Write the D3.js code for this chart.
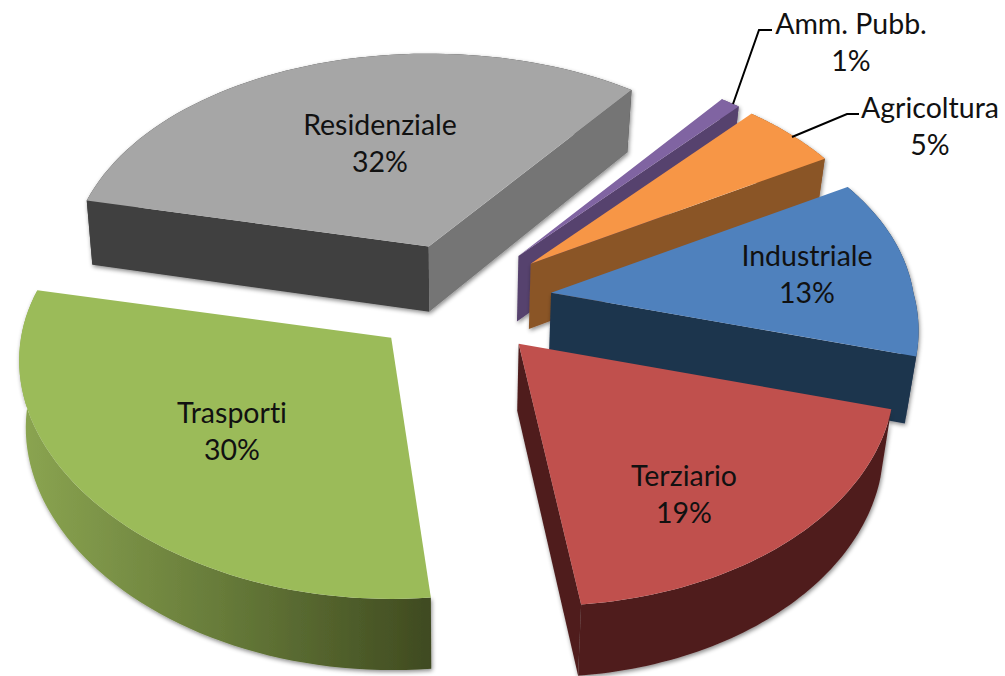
<!DOCTYPE html>
<html>
<head>
<meta charset="utf-8">
<script src="https://cdn.jsdelivr.net/npm/d3@7"></script>
<style>
  html, body { margin:0; padding:0; background:#fff; }
  svg { display:block; }
  .lbl { font-family:Lato, "Open Sans", sans-serif; font-size:28.5px; fill:#111; text-anchor:middle; font-variant-ligatures:none; }
  .leader { fill:none; stroke:#000; stroke-width:2; }
</style>
</head>
<body>
<svg id="svg-pie" width="1005" height="676"></svg>
<script>
// Data, in the order the slices go round (clockwise)
var categories = ["Residenziale", "Amm. Pubb.", "Agricoltura", "Industriale", "Terziario", "Trasporti"];
var values = [32, 1, 5, 13, 19, 30];
var top_colors = ["#a6a6a6", "#8064a2", "#f79646", "#4f81bd", "#c0504d", "#9bbb59"];
var wall_colors = ["#404040", "#57426e", "#8a5427", "#1f344d", "#4f1f1f", "url(#wall-trasporti)"];
var end_wall_colors = ["#757575", "#57426e", "#8a5427", "#1f344d", "#4f1f1f", "url(#wall-trasporti)"];

// Layout
var center = { x:460, y:300 };
var radius = 363, tilt = 0.611, explode = 0.253, explode_tilt = 0.62;
var persp_x = 0.1, persp_y = 0.134; // how much the rim grows towards the viewer
var rotation = 282.5 * Math.PI / 180;

// Labels are placed by hand, like in the original
var label_pos = [[380, 125], [851, 24], [930, 108], [807, 256], [684, 476], [232, 413]];
var line_gap = 37;
var leaders = [[[733, 104], [759, 30], [772, 30]], [[792, 137], [847, 114], [859, 114]]];

var svg = d3.select("#svg-pie");
var rScale = d3.scaleLinear().domain([0, 1]).range([0, radius]);
var yScale = d3.scaleLinear().domain([0, 1]).range([0, radius * tilt]);
var line = d3.line();

var defs = svg.append("defs");
var grad = defs.append("linearGradient")
               .attr("id", "wall-trasporti")
               .attr("gradientUnits", "userSpaceOnUse")
               .attr("x1", 20).attr("x2", 432).attr("y1", 0).attr("y2", 0);
grad.append("stop").attr("offset", 0).attr("stop-color", "#8ba551");
grad.append("stop").attr("offset", 0.5).attr("stop-color", "#667a39");
grad.append("stop").attr("offset", 1).attr("stop-color", "#3f4a20");

var shadow = defs.append("filter").attr("id", "shadow")
                 .attr("x", "-10%").attr("y", "-10%").attr("width", "120%").attr("height", "120%");
shadow.append("feDropShadow")
      .attr("dx", 1).attr("dy", 2).attr("stdDeviation", 2)
      .attr("flood-color", "#000").attr("flood-opacity", 0.45);

// d3.pie measures from 12 o'clock; phi here is from 3 o'clock, same direction
var pie = d3.pie().sort(null).startAngle(rotation).endAngle(rotation + 2 * Math.PI);
var slices = pie(values);

// Rim point relative to the slice's apex. Nearer slices come out a bit bigger
// and the front of a slice on the right leans further right.
var project = function(phi, mid, apex_x) {
  var s = Math.sin(phi), c = Math.cos(phi);
  var size = 1 + (Math.sin(mid) > 0 ? 0.03 : 0.015) * Math.sin(mid);
  var wx = 1 / (1 - persp_x * s), wy = 1 / (1 - persp_y * s);
  var lean = s > 0 ? (apex_x - 390) * (1 / (1 - 0.152 * s) - 1) : 0;
  return [rScale(c) * wx * size + lean, yScale(s) * wy * size];
}

// Bottom of the extrusion: lower and a bit closer to the middle
var drop = function(p) {
  var squeeze = p[0] < center.x ? 0.985 : 0.975;
  return [center.x + (p[0] - center.x) * squeeze, p[1] + 61 + 0.017 * p[1]];
}

slices.forEach(function(d, i) {
  var start = d.startAngle - Math.PI / 2;
  var end = d.endAngle - Math.PI / 2;
  var mid = (start + end) / 2;
  var apex = [center.x + rScale(explode * Math.cos(mid)),
              center.y + rScale(explode * explode_tilt * Math.sin(mid))];

  var rim = d3.range(0, 61).map(function(t) {
    var q = project(start + (end - start) * t / 60, mid, apex[0]);
    return [apex[0] + q[0], apex[1] + q[1]];
  });
  var first = rim[0], last = rim[rim.length - 1];

  var g = svg.append("g").attr("class", "slice").attr("filter", "url(#shadow)");

  // outer wall
  g.append("path")
   .attr("d", line(rim.concat(rim.map(drop).reverse())) + "Z")
   .style("fill", wall_colors[i]);

  // radial walls, only those turned towards us
  if (Math.cos(start) < 0) {
    g.append("path")
     .attr("d", line([apex, first, drop(first), drop(apex)]) + "Z")
     .style("fill", wall_colors[i]);
  }
  if (Math.cos(end) > 0) {
    g.append("path")
     .attr("d", line([apex, last, drop(last), drop(apex)]) + "Z")
     .style("fill", end_wall_colors[i]);
  }

  // top face
  svg.append("path")
     .attr("class", "top")
     .attr("d", line([apex].concat(rim)) + "Z")
     .style("fill", top_colors[i]);
});

// Labels
categories.forEach(function(name, i) {
  svg.append("text").attr("class", "lbl")
     .attr("x", label_pos[i][0]).attr("y", label_pos[i][1] + 10)
     .text(name);
  svg.append("text").attr("class", "lbl")
     .attr("x", label_pos[i][0]).attr("y", label_pos[i][1] + 10 + line_gap)
     .text(values[i] + "%");
});

// Leader lines for the two small slices
svg.selectAll(".leader")
   .data(leaders)
   .enter()
   .append("path")
   .attr("class", "leader")
   .attr("d", function(d) { return line(d); });
</script>
</body>
</html>
